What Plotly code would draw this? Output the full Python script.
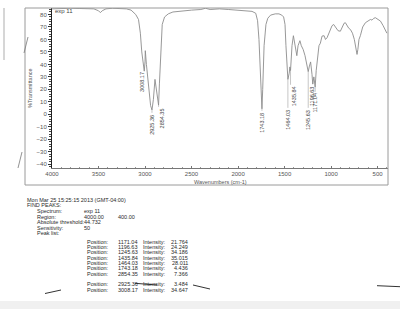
import plotly.graph_objects as go

# ---------------- data ----------------
wavenumber = [4000, 3900, 3800, 3700, 3600, 3550, 3500, 3480, 3460, 3420, 3350, 3250, 3200, 3150,
              3100, 3070, 3050, 3035, 3020, 3008.17, 3000, 2997, 2985, 2960, 2940, 2925.36, 2910,
              2893, 2880, 2865, 2854.35, 2845, 2830, 2815, 2790, 2750, 2700, 2600, 2500, 2400,
              2350, 2300, 2200, 2100, 2000, 1900, 1850, 1810, 1790, 1775, 1760, 1750, 1743.18,
              1735, 1720, 1700, 1680, 1650, 1600, 1560, 1530, 1510, 1495, 1485, 1475, 1464.03,
              1450, 1443, 1435.84, 1420, 1405, 1395, 1378, 1368, 1355, 1335, 1320, 1300, 1280,
              1260, 1245.63, 1235, 1220, 1205, 1196.63, 1185, 1178, 1171.04, 1160, 1145, 1130,
              1115, 1097, 1075, 1060, 1043, 1020, 1007, 990, 972, 950, 925, 900, 880, 860, 846,
              830, 810, 792, 770, 750, 735, 721, 712, 700, 685, 660, 631, 600, 577, 560, 540,
              523, 500, 480, 469, 440, 415, 400]
transmittance = [84.5, 85, 85, 84.8, 85, 84.5, 83, 81.5, 83, 84.5, 85, 84.8, 84.5, 83.5,
                 80, 76, 65, 50, 38, 34.6, 42, 51, 40, 18, 7, 3.5, 12,
                 28, 20, 10, 7.4, 25, 55, 72, 78, 80.5, 82, 83, 83.5, 84,
                 85, 84, 84.5, 84, 83.5, 83, 82.5, 81, 75, 60, 30, 10, 4.4,
                 20, 55, 72, 77, 79.5, 80.5, 80.5, 79.5, 78, 72, 55, 35, 28,
                 33, 38, 35, 55, 63, 58, 50, 47, 55, 59, 55, 52, 47,
                 40, 34.2, 38, 42, 32, 24.2, 30, 26, 21.8, 35, 48, 55,
                 57, 62.7, 63, 60, 61.4, 66, 68, 71, 72, 70, 67, 66.6, 70, 73, 73.4,
                 71, 69, 68, 65, 60, 52, 48, 52, 60, 63, 70, 73.4, 75, 76, 75.5, 77,
                 77.4, 76.5, 75.5, 74.7, 71, 66.6, 65]

peak_positions = [1171.04, 1196.63, 1245.63, 1435.84, 1464.03, 1743.18, 2854.35, 2925.36, 3008.17]
peak_intensities = [21.764, 24.249, 34.186, 35.015, 28.011, 4.436, 7.366, 3.484, 34.647]

x_ticks = [4000, 3500, 3000, 2500, 2000, 1500, 1000, 500]
y_ticks = [-40, -30, -20, -10, 0, 10, 20, 30, 40, 50, 60, 70, 80]

# label placement (layout only): top of each vertical peak label, and small pixel shifts
label_top = [18, 23.7, 5.2, 23.7, 5.2, 2.8, 6, 1.2, 35.8]
label_shift = [0, -1, 0, 3, 0, 0, 3, 0, -3]

# ---------------- layout helpers (pixel -> paper) ----------------
L, R, T, B = 52, 388, 8, 168
def px(x):
    return (x - L) / (R - L)
def py(y):
    return (B - y) / (B - T)

FONT = "Liberation Sans, Arial, sans-serif"
TXT = "#2a2a2a"

fig = go.Figure()
fig.add_trace(go.Scatter(x=wavenumber, y=transmittance, mode="lines",
                         line=dict(color="#8c8c8c", width=0.9), hoverinfo="skip",
                         showlegend=False))

# leader lines from peak to label
for pos, inten, top in zip(peak_positions, peak_intensities, label_top):
    if top < inten - 1:
        fig.add_trace(go.Scatter(x=[pos, pos], y=[inten, top], mode="lines",
                                 line=dict(color="#a0a0a0", width=0.6),
                                 hoverinfo="skip", showlegend=False))

annotations = []
for pos, top, sh in zip(peak_positions, label_top, label_shift):
    annotations.append(dict(x=pos, y=top, xref="x", yref="y", text=f"{pos:.2f}",
                            textangle=-90, showarrow=False, xanchor="center", yanchor="top",
                            xshift=sh, font=dict(family=FONT, size=5.5, color="#444")))

# plot title and axis titles
annotations.append(dict(x=px(53), y=py(11), xref="paper", yref="paper", text="exp 11",
                        showarrow=False, xanchor="left", yanchor="middle",
                        font=dict(family=FONT, size=6, color="#444")))
annotations.append(dict(x=px(30), y=py(88), xref="paper", yref="paper", text="%Transmittance",
                        textangle=-90, showarrow=False, xanchor="center", yanchor="middle",
                        font=dict(family=FONT, size=5.5, color="#555")))
annotations.append(dict(x=px(220), y=py(181.5), xref="paper", yref="paper",
                        text="Wavenumbers (cm-1)", showarrow=False, xanchor="center",
                        yanchor="middle", font=dict(family=FONT, size=5.5, color="#555")))

def txt(x, y, s, anchor="left"):
    annotations.append(dict(x=px(x), y=py(y), xref="paper", yref="paper", text=s,
                            showarrow=False, xanchor=anchor, yanchor="middle",
                            font=dict(family=FONT, size=5.5, color=TXT)))

txt(25, 199.5, "Mon Mar 25 15:25:15 2013 (GMT-04:00)")
txt(25, 205, "FIND PEAKS:")
txt(35, 211, "Spectrum:"); txt(82, 211, "exp 11")
txt(35, 216.5, "Region:"); txt(82, 216.5, "4000.00"); txt(116, 216.5, "400.00")
txt(35, 222, "Absolute threshold:"); txt(82, 222, "44.732")
txt(35, 227.5, "Sensitivity:"); txt(82, 227.5, "50")
txt(35, 233, "Peak list:")
row_y = [241.7, 247, 252.3, 257.7, 263, 268.3, 273.7, 284.3, 290]
for yy, pos, inten in zip(row_y, peak_positions, peak_intensities):
    txt(85, yy, "Position:")
    txt(116, yy, f"{pos:.2f}")
    txt(141, yy, "Intensity:")
    txt(190, yy, f"{inten:.3f}", anchor="right")

shapes = [
    # outer frame
    dict(type="rect", xref="paper", yref="paper", x0=px(25), x1=px(388), y0=py(185), y1=py(8),
         line=dict(color="#9a9a9a", width=1)),
    # scan artifacts
    dict(type="line", xref="paper", yref="paper", x0=px(4), x1=px(4), y0=py(8), y1=py(60),
         line=dict(color="#d6d6d6", width=2)),
    dict(type="line", xref="paper", yref="paper", x0=px(24), x1=px(28), y0=py(53), y1=py(37),
         line=dict(color="#777", width=0.8)),
    dict(type="line", xref="paper", yref="paper", x0=px(18), x1=px(22), y0=py(168), y1=py(152),
         line=dict(color="#777", width=0.8)),
    dict(type="rect", xref="paper", yref="paper", x0=px(0), x1=px(400), y0=py(309), y1=py(301),
         fillcolor="#f0f0f0", line=dict(width=0)),
    # pen strokes
    dict(type="line", xref="paper", yref="paper", x0=px(45), x1=px(61), y0=py(293.5), y1=py(290),
         line=dict(color="#333", width=1)),
    dict(type="line", xref="paper", yref="paper", x0=px(135), x1=px(157), y0=py(283.3), y1=py(285),
         line=dict(color="#333", width=1)),
    dict(type="line", xref="paper", yref="paper", x0=px(193), x1=px(210), y0=py(285), y1=py(289),
         line=dict(color="#333", width=1)),
    dict(type="line", xref="paper", yref="paper", x0=px(377), x1=px(400), y0=py(285.7), y1=py(286.7),
         line=dict(color="#333", width=1)),
]

fig.update_layout(
    width=400, height=309,
    margin=dict(l=L, r=400 - R, t=T, b=309 - B),
    paper_bgcolor="white", plot_bgcolor="white",
    showlegend=False,
    annotations=annotations, shapes=shapes,
    xaxis=dict(range=[4000, 388], tickvals=x_ticks, ticktext=[str(v) for v in x_ticks],
               showgrid=False, zeroline=False, showline=True, linecolor="#777", linewidth=1,
               ticks="inside", ticklen=2, tickcolor="#777", tickwidth=0.8,
               minor=dict(dtick=100, ticks="inside", ticklen=1.5, tickcolor="#999"),
               tickfont=dict(family=FONT, size=6, color="#555")),
    yaxis=dict(range=[-43, 85.2], tickvals=y_ticks,
               showgrid=False, zeroline=False, showline=True, linecolor="#222", linewidth=1,
               ticks="outside", ticklen=3, tickcolor="#333", tickwidth=0.8,
               minor=dict(dtick=2, ticks="outside", ticklen=2, tickcolor="#444"),
               tickfont=dict(family=FONT, size=6, color="#555")),
)

fig.write_html("out.html")
